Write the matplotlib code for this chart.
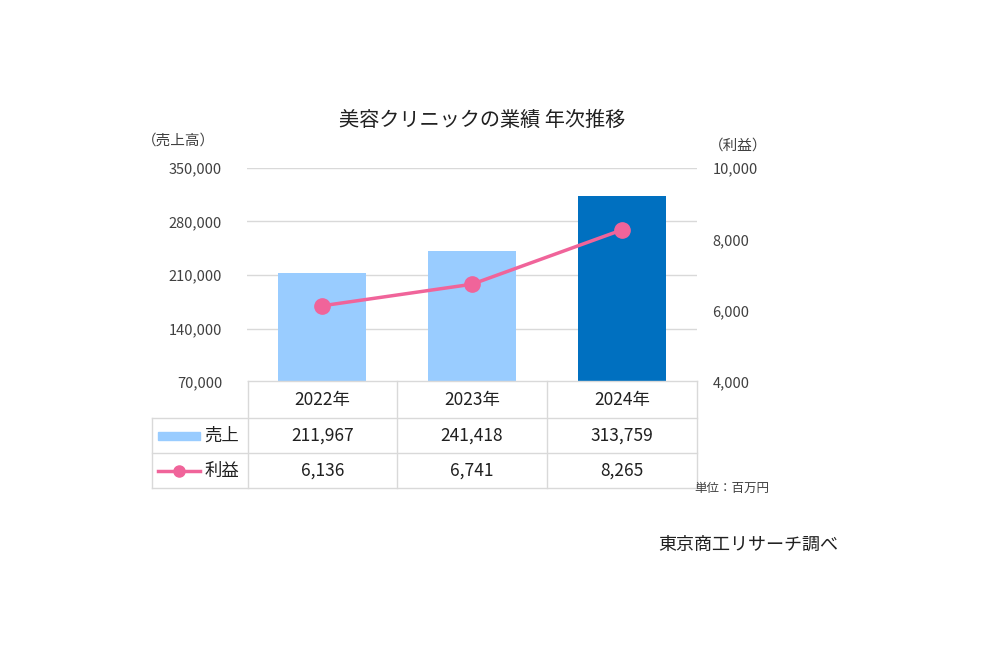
import matplotlib
matplotlib.use('Agg')
import matplotlib.pyplot as plt
from matplotlib.lines import Line2D
from matplotlib.patches import Rectangle

plt.rcParams['font.family'] = ['Noto Sans CJK JP', 'DejaVu Sans']

years = ['2022年', '2023年', '2024年']
sales = [211967, 241418, 313759]
profit = [6136, 6741, 8265]
sales_ticks = [70000, 140000, 210000, 280000, 350000]
profit_ticks = [4000, 6000, 8000, 10000]

light_blue = '#99CCFF'
dark_blue = '#0070C0'
pink = '#F0649A'
grid_c = '#D9D9D9'
text_c = '#404040'

fig = plt.figure(figsize=(10, 6.7), dpi=100)
W, H = 1000, 670

def fx(px):
    return px / W

def fy(py):
    return 1 - py / H

ax = fig.add_axes([fx(247), fy(382), fx(697) - fx(247), fy(168) - fy(382)])
x = list(range(len(years)))
colors = [light_blue, light_blue, dark_blue]
ax.bar(x, sales, width=0.59, color=colors, bottom=0, zorder=2)
ax.set_ylim(70000, 350000)
ax.set_xlim(-0.5, 2.5)
ax.set_yticks(sales_ticks)
ax.set_yticklabels([f'{v:,}' for v in sales_ticks], color=text_c, fontsize=10.5)
ax.yaxis.grid(True, color=grid_c, linewidth=1, zorder=0)
ax.set_xticks([])
ax.tick_params(axis='y', length=0, pad=18)
for s in ax.spines.values():
    s.set_visible(False)

ax2 = ax.twinx()
ax2.plot(x, profit, color=pink, linewidth=2.5, marker='o', markersize=11, zorder=3)
ax2.set_ylim(4000, 10000)
ax2.set_yticks(profit_ticks)
ax2.set_yticklabels([f'{v:,}' for v in profit_ticks], color=text_c, fontsize=10.5)
ax2.tick_params(axis='y', length=0, pad=11)
for s in ax2.spines.values():
    s.set_visible(False)

fig.text(fx(482), fy(120), '美容クリニックの業績 年次推移', ha='center', va='center',
         fontsize=14.5, color='#202020')
fig.text(fx(178), fy(141), '（売上高）', ha='center', va='center', fontsize=10.5, color=text_c)
fig.text(fx(738), fy(146), '（利益）', ha='center', va='center', fontsize=10.5, color=text_c)

# data table under the chart
tcol = [152, 248, 397, 547, 697]
trow = [381, 418, 453, 488]
line_kw = dict(color=grid_c, linewidth=1, transform=fig.transFigure)
for i, r in enumerate(trow):
    x0 = tcol[1] if i == 0 else tcol[0]
    fig.add_artist(Line2D([fx(x0), fx(tcol[-1])], [fy(r), fy(r)], **line_kw))
for j, c in enumerate(tcol):
    y0 = trow[1] if j == 0 else trow[0]
    fig.add_artist(Line2D([fx(c), fx(c)], [fy(y0), fy(trow[-1])], **line_kw))

for j, yr in enumerate(years):
    cx = (tcol[j + 1] + tcol[j + 2]) / 2
    fig.text(fx(cx), fy((trow[0] + trow[1]) / 2), yr, ha='center', va='center',
             fontsize=12.5, color='#202020')
    fig.text(fx(cx), fy((trow[1] + trow[2]) / 2), f'{sales[j]:,}', ha='center',
             va='center', fontsize=12.5, color='#202020')
    fig.text(fx(cx), fy((trow[2] + trow[3]) / 2), f'{profit[j]:,}', ha='center',
             va='center', fontsize=12.5, color='#202020')

# legend keys in the table
yk1 = (trow[1] + trow[2]) / 2
fig.add_artist(Rectangle((fx(158), fy(yk1 + 4)), fx(42), fy(yk1 - 4) - fy(yk1 + 4),
                         transform=fig.transFigure, color=light_blue))
fig.text(fx(222), fy(yk1), '売上', ha='center', va='center', fontsize=12.5, color='#202020')
yk2 = (trow[2] + trow[3]) / 2
fig.add_artist(Line2D([fx(158), fx(200)], [fy(yk2), fy(yk2)], color=pink, linewidth=2.5,
                      transform=fig.transFigure))
fig.add_artist(Line2D([fx(179)], [fy(yk2)], color=pink, marker='o', markersize=8,
                      transform=fig.transFigure))
fig.text(fx(222), fy(yk2), '利益', ha='center', va='center', fontsize=12.5, color='#202020')

fig.text(fx(732), fy(488), '単位：百万円', ha='center', va='center', fontsize=9, color='#404040')
fig.text(fx(748), fy(545), '東京商工リサーチ調べ', ha='center', va='center', fontsize=13,
         color='#202020')

fig.savefig('out.png', dpi=100, facecolor='white')
